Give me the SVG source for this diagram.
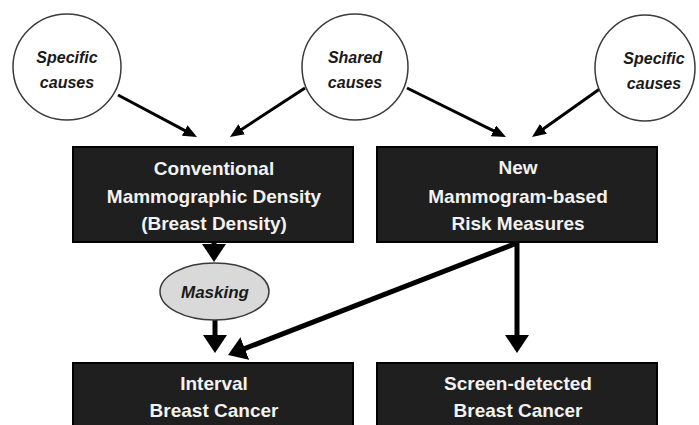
<svg xmlns="http://www.w3.org/2000/svg" width="699" height="425" viewBox="0 0 699 425">
  <style>
    .cause { fill: #ffffff; stroke: #3a3a3a; stroke-width: 1.5; }
    .cause-text { font-family: "Liberation Sans", Arial, sans-serif; font-size: 16px; font-weight: bold; font-style: italic; fill: #1a1a1a; text-anchor: middle; }
    .box { fill: #1f1f1f; stroke: #000000; stroke-width: 2; }
    .box-text { font-family: "Liberation Sans", Arial, sans-serif; font-size: 19px; font-weight: bold; fill: #f2f2f2; text-anchor: middle; }
    .mask { fill: #d9d9d9; stroke: #3a3a3a; stroke-width: 1.5; }
    .mask-text { font-family: "Liberation Sans", Arial, sans-serif; font-size: 17px; font-weight: bold; font-style: italic; fill: #1a1a1a; text-anchor: middle; }
    .thin { stroke: #000000; stroke-width: 3; fill: none; marker-end: url(#headSmall); }
    .thick { stroke: #000000; stroke-width: 5; fill: none; marker-end: url(#headLarge); }
  </style>
  <defs>
    <marker id="headSmall" viewBox="0 0 14 12" refX="2" refY="6" markerWidth="14" markerHeight="12" markerUnits="userSpaceOnUse" orient="auto">
      <path d="M0,0 L14,6 L0,12 z" fill="#000000"/>
    </marker>
    <marker id="headLarge" viewBox="0 0 18 24" refX="3" refY="12" markerWidth="18" markerHeight="24" markerUnits="userSpaceOnUse" orient="auto">
      <path d="M0,0 L18,12 L0,24 z" fill="#000000"/>
    </marker>
  </defs>

  <rect width="699" height="425" fill="#ffffff"/>

  <!-- connectors -->
  <g id="connectors">
    <line class="thin" x1="118" y1="95" x2="186.4" y2="131.4"/>
    <line class="thin" x1="305" y1="88" x2="240" y2="130.4"/>
    <line class="thin" x1="407" y1="88" x2="495.2" y2="131.7"/>
    <line class="thin" x1="601" y1="88" x2="541.8" y2="130"/>
    <line class="thick" x1="214" y1="242" x2="214" y2="247"/>
    <line class="thick" x1="215" y1="320" x2="215" y2="338"/>
    <line class="thick" x1="517" y1="242" x2="517" y2="338"/>
    <line class="thick" x1="517" y1="243" x2="242" y2="349.6"/>
  </g>

  <!-- cause circles -->
  <g id="specific-left">
    <ellipse class="cause" cx="67" cy="67" rx="54" ry="53"/>
    <text class="cause-text" x="67" y="63">Specific</text>
    <text class="cause-text" x="67" y="88">causes</text>
  </g>
  <g id="shared">
    <ellipse class="cause" cx="355" cy="67" rx="53" ry="53"/>
    <text class="cause-text" x="355" y="63">Shared</text>
    <text class="cause-text" x="355" y="88">causes</text>
  </g>
  <g id="specific-right">
    <ellipse class="cause" cx="645" cy="68" rx="50" ry="53"/>
    <text class="cause-text" x="654" y="64">Specific</text>
    <text class="cause-text" x="654" y="89">causes</text>
  </g>

  <!-- measure boxes -->
  <g id="density">
    <rect class="box" x="73" y="147" width="280" height="95"/>
    <text class="box-text" x="214" y="175">Conventional</text>
    <text class="box-text" x="214" y="203">Mammographic Density</text>
    <text class="box-text" x="214" y="230">(Breast Density)</text>
  </g>
  <g id="risk-measures">
    <rect class="box" x="377" y="147" width="280" height="95"/>
    <text class="box-text" x="518" y="174">New</text>
    <text class="box-text" x="518" y="203">Mammogram-based</text>
    <text class="box-text" x="518" y="230">Risk Measures</text>
  </g>

  <!-- masking -->
  <g id="masking">
    <ellipse class="mask" cx="214.5" cy="291.5" rx="54.5" ry="28.5"/>
    <text class="mask-text" x="215" y="298">Masking</text>
  </g>

  <!-- outcome boxes -->
  <g id="interval">
    <rect class="box" x="73" y="363" width="280" height="70"/>
    <text class="box-text" x="214" y="390">Interval</text>
    <text class="box-text" x="214" y="417">Breast Cancer</text>
  </g>
  <g id="screen-detected">
    <rect class="box" x="377" y="363" width="280" height="70"/>
    <text class="box-text" x="518" y="390">Screen-detected</text>
    <text class="box-text" x="518" y="417">Breast Cancer</text>
  </g>
</svg>
